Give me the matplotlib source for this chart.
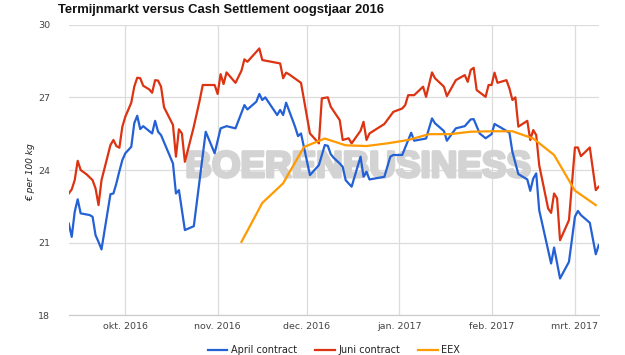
import matplotlib
matplotlib.use("Agg")
import matplotlib.pyplot as plt
import matplotlib.patheffects as pe
import pandas as pd

# ---------------- data ----------------
april_dates = [
    "2016-09-12", "2016-09-13", "2016-09-14", "2016-09-15", "2016-09-16", "2016-09-19",
    "2016-09-20", "2016-09-21", "2016-09-22", "2016-09-23", "2016-09-26", "2016-09-27",
    "2016-09-28", "2016-09-29", "2016-09-30", "2016-10-01", "2016-10-03", "2016-10-04",
    "2016-10-05", "2016-10-06", "2016-10-07", "2016-10-10", "2016-10-11", "2016-10-12",
    "2016-10-13", "2016-10-17", "2016-10-18", "2016-10-19", "2016-10-21", "2016-10-24",
    "2016-10-28", "2016-10-31", "2016-11-02", "2016-11-04", "2016-11-07", "2016-11-10",
    "2016-11-11", "2016-11-14", "2016-11-15", "2016-11-16", "2016-11-17", "2016-11-21",
    "2016-11-22", "2016-11-23", "2016-11-24", "2016-11-27", "2016-11-28", "2016-11-29",
    "2016-12-02", "2016-12-05", "2016-12-07", "2016-12-08", "2016-12-09", "2016-12-10",
    "2016-12-12", "2016-12-13", "2016-12-14", "2016-12-16", "2016-12-19", "2016-12-20",
    "2016-12-21", "2016-12-22", "2016-12-27", "2016-12-29", "2016-12-30", "2017-01-02",
    "2017-01-05", "2017-01-06", "2017-01-10", "2017-01-12", "2017-01-13", "2017-01-16",
    "2017-01-17", "2017-01-20", "2017-01-23", "2017-01-25", "2017-01-26", "2017-01-28",
    "2017-01-30", "2017-02-01", "2017-02-02", "2017-02-04", "2017-02-07", "2017-02-08",
    "2017-02-10", "2017-02-13", "2017-02-14", "2017-02-15", "2017-02-16", "2017-02-17",
    "2017-02-19", "2017-02-21", "2017-02-22", "2017-02-24", "2017-02-27", "2017-03-01",
    "2017-03-02", "2017-03-03", "2017-03-06", "2017-03-08", "2017-03-09",
]
april_values = [
    21.79, 21.24, 22.27, 22.79, 22.21, 22.14,
    22.07, 21.31, 21.03, 20.72, 23.00, 23.03,
    23.45, 23.95, 24.41, 24.69, 24.96, 25.93,
    26.24, 25.69, 25.81, 25.51, 26.03, 25.58,
    25.44, 24.27, 23.03, 23.17, 21.52, 21.68,
    25.58, 24.69, 25.72, 25.81, 25.72, 26.68,
    26.50, 26.82, 27.14, 26.89, 27.00, 26.27,
    26.48, 26.27, 26.78, 25.79, 25.40, 25.51,
    23.79, 24.20, 25.03, 25.00, 24.65, 24.50,
    24.27, 24.13, 23.58, 23.31, 24.55, 23.72,
    23.93, 23.61, 23.72, 24.55, 24.62, 24.62,
    25.54, 25.21, 25.30, 26.13, 25.93, 25.61,
    25.21, 25.72, 25.81, 26.09, 26.10, 25.51,
    25.31, 25.48, 25.90, 25.76, 25.54, 24.75,
    23.83, 23.61, 23.14, 23.65, 23.86, 22.34,
    21.24, 20.14, 20.80, 19.52, 20.21, 22.07,
    22.31, 22.14, 21.82, 20.52, 20.90,
]

juni_dates = [
    "2016-09-12", "2016-09-13", "2016-09-14", "2016-09-15", "2016-09-16", "2016-09-18",
    "2016-09-20", "2016-09-21", "2016-09-22", "2016-09-23", "2016-09-26", "2016-09-27",
    "2016-09-28", "2016-09-29", "2016-09-30", "2016-10-01", "2016-10-03", "2016-10-04",
    "2016-10-05", "2016-10-06", "2016-10-07", "2016-10-09", "2016-10-10", "2016-10-11",
    "2016-10-12", "2016-10-13", "2016-10-14", "2016-10-17", "2016-10-18", "2016-10-19",
    "2016-10-20", "2016-10-21", "2016-10-24", "2016-10-25", "2016-10-26", "2016-10-27",
    "2016-10-31", "2016-11-01", "2016-11-02", "2016-11-03", "2016-11-04", "2016-11-07",
    "2016-11-09", "2016-11-10", "2016-11-11", "2016-11-14", "2016-11-15", "2016-11-16",
    "2016-11-22", "2016-11-23", "2016-11-24", "2016-11-25", "2016-11-29", "2016-12-02",
    "2016-12-05", "2016-12-06", "2016-12-08", "2016-12-09", "2016-12-12", "2016-12-13",
    "2016-12-15", "2016-12-16", "2016-12-19", "2016-12-20", "2016-12-21", "2016-12-22",
    "2016-12-27", "2016-12-30", "2017-01-02", "2017-01-03", "2017-01-04", "2017-01-06",
    "2017-01-09", "2017-01-10", "2017-01-12", "2017-01-13", "2017-01-16", "2017-01-17",
    "2017-01-20", "2017-01-23", "2017-01-24", "2017-01-25", "2017-01-26", "2017-01-27",
    "2017-01-30", "2017-01-31", "2017-02-01", "2017-02-02", "2017-02-03", "2017-02-06",
    "2017-02-07", "2017-02-08", "2017-02-09", "2017-02-10", "2017-02-13", "2017-02-14",
    "2017-02-15", "2017-02-16", "2017-02-17", "2017-02-20", "2017-02-21", "2017-02-22",
    "2017-02-23", "2017-02-24", "2017-02-27", "2017-03-01", "2017-03-02", "2017-03-03",
    "2017-03-06", "2017-03-08", "2017-03-09",
]
juni_values = [
    23.03, 23.20, 23.58, 24.38, 24.00, 23.82,
    23.58, 23.24, 22.55, 23.58, 25.03, 25.24,
    24.99, 24.92, 25.79, 26.20, 26.78, 27.44,
    27.81, 27.79, 27.48, 27.33, 27.19, 27.71,
    27.69, 27.44, 26.59, 25.86, 24.55, 25.68,
    25.51, 24.34, 25.79, 26.34, 26.89, 27.51,
    27.51, 27.14, 27.96, 27.55, 28.03, 27.60,
    28.10, 28.57, 28.47, 28.88, 29.02, 28.54,
    28.40, 27.79, 28.02, 27.95, 27.60, 25.51,
    25.10, 26.96, 27.00, 26.61, 26.06, 25.24,
    25.31, 25.10, 25.62, 25.99, 25.24, 25.51,
    25.90, 26.40, 26.54, 26.68, 27.09, 27.09,
    27.44, 27.02, 28.03, 27.79, 27.44, 27.05,
    27.71, 27.92, 27.64, 28.13, 28.22, 27.30,
    27.02, 27.51, 27.51, 28.02, 27.60, 27.71,
    27.37, 26.89, 27.00, 25.79, 26.03, 25.24,
    25.65, 25.44, 24.20, 22.41, 22.23, 23.03,
    22.83, 21.10, 21.93, 24.93, 24.93, 24.57,
    24.93, 23.17, 23.31,
]

eex_dates = [
    "2016-11-09", "2016-11-16", "2016-11-23", "2016-11-30", "2016-12-07", "2016-12-14",
    "2016-12-21", "2016-12-28", "2017-01-04", "2017-01-11", "2017-01-18", "2017-01-25",
    "2017-02-01", "2017-02-08", "2017-02-15", "2017-02-22", "2017-03-01", "2017-03-08",
]
eex_values = [
    21.03, 22.64, 23.45, 24.95, 25.30, 25.02,
    24.99, 25.10, 25.24, 25.48, 25.48, 25.58,
    25.60, 25.60, 25.30, 24.62, 23.15, 22.55,
]

month_ticks = ["2016-10-01", "2016-11-01", "2016-12-01", "2017-01-01", "2017-02-01", "2017-03-01"]
month_labels = ["okt. 2016", "nov. 2016", "dec. 2016", "jan. 2017", "feb. 2017", "mrt. 2017"]
y_ticks = [18, 21, 24, 27, 30]

series_names = ["April contract", "Juni contract", "EEX"]
series_colors = ["#2461d4", "#dc3312", "#ff9a00"]

# ---------------- figure ----------------
W, H = 625, 355
fig = plt.figure(figsize=(W / 100, H / 100), dpi=100)
ax = fig.add_axes([69 / W, 1 - 315.3 / H, 530 / W, 290.6 / H])

for d, v, name, col in zip([april_dates, juni_dates, eex_dates],
                           [april_values, juni_values, eex_values],
                           series_names, series_colors):
    ax.plot(pd.to_datetime(d), v, color=col, lw=1.6, label=name, zorder=3,
            solid_joinstyle="round")

ax.set_xlim(pd.Timestamp("2016-09-12 02:00"), pd.Timestamp("2017-03-09 02:00"))
ax.set_ylim(18, 30)
ax.set_yticks(y_ticks)
ax.set_yticklabels([str(t) for t in y_ticks])
ax.set_xticks(pd.to_datetime(month_ticks))
ax.set_xticklabels(month_labels)

ax.grid(True, color="#dcdcdc", lw=0.9, zorder=0)
ax.set_axisbelow(True)
for s in ["top", "right", "left"]:
    ax.spines[s].set_visible(False)
ax.spines["bottom"].set_color("#cccccc")
ax.spines["bottom"].set_linewidth(0.9)

ax.tick_params(axis="both", length=0, labelsize=6.8, colors="#444444")
ax.tick_params(axis="y", pad=13.5)
ax.tick_params(axis="x", pad=5)
for lab in ax.get_xticklabels() + ax.get_yticklabels():
    lab.set_family("DejaVu Sans")

# watermark (behind the lines)
ax.text(358 / W, 1 - 177 / H, "BOERENBUSINESS", fontsize=26.5, fontweight="bold",
        family="Liberation Sans", color="#d3d3d3", ha="center", va="baseline",
        zorder=2, transform=fig.transFigure,
        path_effects=[pe.withStroke(linewidth=2.2, foreground="#d3d3d3")])

# title
fig.text(58 / W, 1 - 12.7 / H, "Termijnmarkt versus Cash Settlement oogstjaar 2016",
         fontsize=9.4, fontweight="bold", family="Liberation Sans", color="#111111",
         ha="left", va="baseline")

# y label
fig.text(31 / W, 1 - 172 / H, "€ per 100 kg", rotation=90, style="italic",
         fontsize=6.6, color="#222222", ha="center", va="center", family="DejaVu Sans")

# legend
leg = fig.legend(loc="center", bbox_to_anchor=(334 / W, 1 - 350 / H), ncol=3,
                 frameon=False, fontsize=7, handlelength=2.0, handletextpad=0.35,
                 columnspacing=1.9, borderaxespad=0)
for t in leg.get_texts():
    t.set_color("#222222")

fig.savefig("out.png", dpi=100)
